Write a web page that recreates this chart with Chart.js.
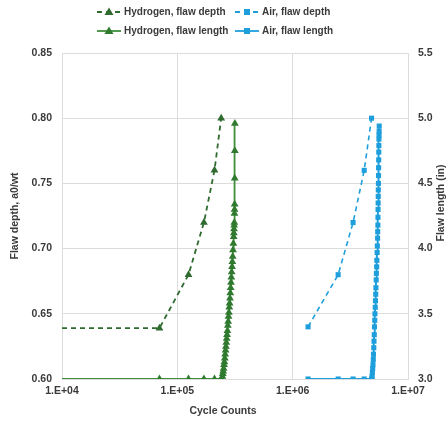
<!DOCTYPE html>
<html>
<head>
<meta charset="utf-8">
<script src="https://cdn.jsdelivr.net/npm/chart.js@4"></script>
<style>
  html, body { margin: 0; padding: 0; background: #fff; }
  #wrap { width: 448px; height: 421px; }
</style>
</head>
<body>
<div id="wrap"><canvas id="myChart" width="448" height="421"></canvas></div>
<script>
const ctx = document.querySelector("#myChart")

// hydrogen, flaw depth (left axis)
const hydDepthCycles = [1e4, 70000, 125000, 170000, 210000, 240000]
const hydDepthValues = [0.639, 0.639, 0.68, 0.72, 0.76, 0.80]

// hydrogen, flaw length (right axis)
const hydLengthCycles = [1e4, 70000, 125000, 170000, 210000, 240000,
  244000, 246000, 248000, 250000, 252000, 254000, 256000, 258000, 260000, 262000,
  264000, 266000, 268000, 270000, 272000, 274000, 276000, 278000, 280000, 282000,
  284000, 286000, 288000, 290000, 292000, 294000, 296000, 298000, 300000, 302000,
  304000, 306000, 308000, 309000, 310000, 311000, 312000, 313000, 313500, 314000,
  314500, 315000, 315500]
const hydLengthValues = [3.0, 3.0, 3.0, 3.0, 3.0, 3.0,
  3.00, 3.02, 3.04, 3.06, 3.08, 3.11, 3.13, 3.16, 3.19, 3.22,
  3.25, 3.28, 3.31, 3.34, 3.37, 3.41, 3.44, 3.48, 3.51, 3.55,
  3.58, 3.62, 3.66, 3.70, 3.74, 3.78, 3.82, 3.86, 3.90, 3.94,
  3.99, 4.04, 4.09, 4.12, 4.15, 4.18, 4.20, 4.27, 4.30, 4.34,
  4.54, 4.75, 4.96]

// air, flaw depth (left axis)
const airDepthCycles = [1.36e6, 2.48e6, 3.34e6, 4.17e6, 4.83e6]
const airDepthValues = [0.64, 0.68, 0.72, 0.76, 0.80]

// air, flaw length (right axis)
const airLengthCycles = [1.36e6, 2.48e6, 3.34e6, 4.17e6, 4.83e6,
  4.86e6, 4.88e6, 4.91e6, 4.94e6, 4.97e6, 5.00e6, 5.02e6, 5.05e6, 5.07e6, 5.10e6,
  5.12e6, 5.15e6, 5.17e6, 5.20e6, 5.22e6, 5.25e6, 5.27e6, 5.30e6, 5.32e6, 5.35e6,
  5.37e6, 5.40e6, 5.42e6, 5.45e6, 5.46e6, 5.48e6, 5.49e6, 5.50e6, 5.51e6, 5.52e6,
  5.53e6, 5.54e6, 5.55e6, 5.56e6, 5.57e6, 5.58e6, 5.59e6, 5.60e6, 5.61e6, 5.62e6, 5.63e6]
const airLengthValues = [3.0, 3.0, 3.0, 3.0, 3.0,
  3.00, 3.02, 3.05, 3.08, 3.11, 3.15, 3.19, 3.24, 3.29, 3.34,
  3.40, 3.45, 3.50, 3.55, 3.60, 3.65, 3.70, 3.76, 3.81, 3.86,
  3.91, 3.97, 4.02, 4.08, 4.13, 4.18, 4.24, 4.30, 4.35, 4.40,
  4.45, 4.50, 4.56, 4.62, 4.68, 4.74, 4.79, 4.84, 4.87, 4.90, 4.94]

const xTicks = [1e4, 1e5, 1e6, 1e7]

const H_DEPTH = '#2f6b2f'
const H_LEN = '#3f8f3a'
const AIR = '#1e9fdc'
const TXT = '#3a3a3a'
const GRID = '#dcdcdc'
const FONT = 'bold 10.5px "Liberation Sans", Arial, sans-serif'
const LEGEND_FONT = 'bold 10px "Liberation Sans", Arial, sans-serif'

const pairs = (xs, ys) => xs.map((x, i) => ({x: x, y: ys[i]}))

const data = {
  datasets: [{
    label: "Hydrogen, flaw depth",
    data: pairs(hydDepthCycles, hydDepthValues),
    yAxisID: "yDepth",
    borderColor: H_DEPTH,
    backgroundColor: H_DEPTH,
    borderDash: [5, 4],
    borderWidth: 1.8,
    pointStyle: 'triangle',
    pointRadius: hydDepthCycles.map((c, i) => i === 0 ? 0 : 4.5),
    pointBorderWidth: 0
  }, {
    label: "Air, flaw depth",
    data: pairs(airDepthCycles, airDepthValues),
    yAxisID: "yDepth",
    borderColor: AIR,
    backgroundColor: AIR,
    borderDash: [5, 4],
    borderWidth: 1.6,
    pointStyle: 'rect',
    pointRadius: 3.6,
    pointBorderWidth: 0
  }, {
    label: "Hydrogen, flaw length",
    data: pairs(hydLengthCycles, hydLengthValues),
    yAxisID: "yLength",
    borderColor: H_LEN,
    backgroundColor: '#2f7a2f',
    borderWidth: 1.8,
    pointStyle: 'triangle',
    pointRadius: hydLengthCycles.map((c, i) => i === 0 ? 0 : 4.5),
    pointBorderWidth: 0
  }, {
    label: "Air, flaw length",
    data: pairs(airLengthCycles, airLengthValues),
    yAxisID: "yLength",
    borderColor: AIR,
    backgroundColor: AIR,
    borderWidth: 2,
    pointStyle: 'rect',
    pointRadius: 3.6,
    pointBorderWidth: 0
  }]
}

// legend + axis titles drawn by hand to match placement
const extras = {
  id: 'extras',
  afterDraw(chart) {
    const c = chart.ctx
    const items = [
      {ds: 0, x: 97, y: 12}, {ds: 1, x: 235, y: 12},
      {ds: 2, x: 97, y: 31}, {ds: 3, x: 235, y: 31}
    ]
    c.save()
    c.textBaseline = 'middle'
    items.forEach(it => {
      const ds = chart.data.datasets[it.ds]
      c.strokeStyle = ds.borderColor
      c.lineWidth = 1.8
      c.setLineDash(ds.borderDash ? [5, 4] : [])
      c.beginPath()
      c.moveTo(it.x, it.y)
      c.lineTo(it.x + 24, it.y)
      c.stroke()
      c.setLineDash([])
      c.fillStyle = ds.backgroundColor
      const mx = it.x + 12
      if (ds.pointStyle === 'triangle') {
        c.beginPath()
        c.moveTo(mx, it.y - 4.5)
        c.lineTo(mx + 4.5, it.y + 3)
        c.lineTo(mx - 4.5, it.y + 3)
        c.closePath()
        c.fill()
      } else {
        c.fillRect(mx - 3, it.y - 3, 6, 6)
      }
      c.font = LEGEND_FONT
      c.fillStyle = TXT
      c.textAlign = 'left'
      c.fillText(ds.label, it.x + 27, it.y + 0.5)
    })
    c.font = FONT
    c.textAlign = 'center'
    c.fillText('Cycle Counts', 223, 411)
    c.save()
    c.translate(15, 216)
    c.rotate(-Math.PI / 2)
    c.fillText('Flaw depth, a0/wt', 0, 0)
    c.restore()
    c.save()
    c.translate(441, 203)
    c.rotate(-Math.PI / 2)
    c.fillText('Flaw length (in)', 0, 0)
    c.restore()
    c.restore()
  }
}

const tickFont = {family: '"Liberation Sans", Arial, sans-serif', size: 10.5, weight: 'bold'}

const options = {
  responsive: false,
  animation: false,
  layout: {padding: {top: 53, left: 0, right: 0, bottom: 0}},
  plugins: {
    legend: {display: false},
    tooltip: {enabled: false}
  },
  scales: {
    x: {
      type: 'logarithmic',
      min: 1e4,
      max: 1e7,
      afterBuildTicks: s => { s.ticks = xTicks.map(v => ({value: v})) },
      afterFit: s => { s.height = 42 },
      ticks: {
        color: TXT,
        font: tickFont,
        padding: 6,
        maxRotation: 0,
        callback: v => '1.E+0' + Math.round(Math.log10(v))
      },
      grid: {color: GRID, drawTicks: false},
      border: {color: GRID}
    },
    yDepth: {
      position: 'left',
      min: 0.6,
      max: 0.85,
      afterFit: s => { s.width = 62 },
      ticks: {
        stepSize: 0.05,
        color: TXT,
        font: tickFont,
        padding: 10,
        callback: v => v.toFixed(2)
      },
      grid: {color: GRID, drawTicks: false},
      border: {display: false}
    },
    yLength: {
      position: 'right',
      min: 3,
      max: 5.5,
      afterFit: s => { s.width = 40 },
      ticks: {
        stepSize: 0.5,
        color: TXT,
        font: tickFont,
        padding: 10,
        callback: v => v.toFixed(1)
      },
      grid: {drawOnChartArea: false, drawTicks: false},
      border: {display: false}
    }
  }
}

const config = {
  type: 'line',
  data: data,
  options: options,
  plugins: [extras]
}

const chart = new Chart(ctx, config);
</script>
</body>
</html>
